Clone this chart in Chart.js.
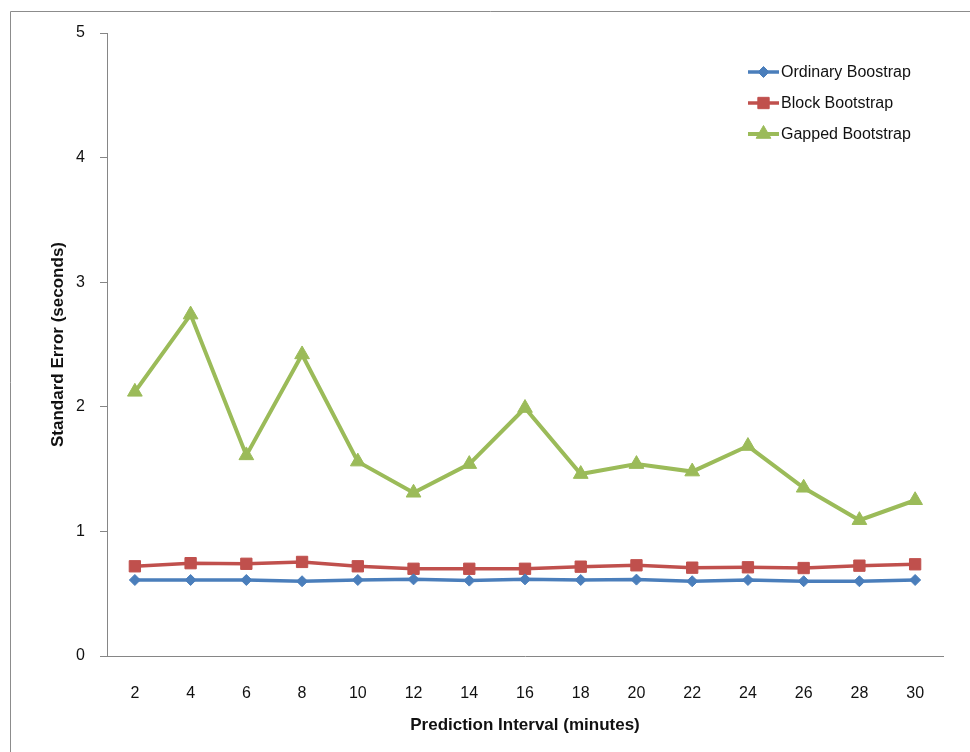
<!DOCTYPE html>
<html>
<head>
<meta charset="utf-8">
<title>Standard Error by Prediction Interval</title>
<script src="https://cdn.jsdelivr.net/npm/chart.js@4/dist/chart.umd.min.js"></script>
<style>
  html, body { margin: 0; padding: 0; background: #fff; }
  #wrap { width: 970px; height: 752px; }
</style>
</head>
<body>
<div id="wrap"><canvas id="grafico" width="970" height="752"></canvas></div>
<script>
// dados
const intervals = ["2", "4", "6", "8", "10", "12", "14", "16", "18", "20", "22", "24", "26", "28", "30"];
const ordinary = [0.61, 0.61, 0.61, 0.60, 0.61, 0.615, 0.605, 0.615, 0.61, 0.613, 0.60, 0.61, 0.60, 0.60, 0.61];
const block = [0.72, 0.745, 0.74, 0.755, 0.72, 0.70, 0.70, 0.70, 0.717, 0.728, 0.709, 0.712, 0.706, 0.725, 0.736];
const gapped = [2.12, 2.74, 1.61, 2.42, 1.56, 1.31, 1.54, 1.99, 1.46, 1.54, 1.48, 1.685, 1.35, 1.09, 1.25];
const yTicks = [0, 1, 2, 3, 4, 5];

const FONT = "'Liberation Sans', Arial, sans-serif";
const AXIS_GRAY = "#868686";

// moldura externa (só esquerda e topo aparecem)
const frame = {
  id: "frame",
  beforeDraw(chart) {
    const ctx = chart.ctx;
    ctx.save();
    ctx.strokeStyle = "#8c8c8c";
    ctx.lineWidth = 1;
    ctx.beginPath();
    ctx.moveTo(10.5, 760);
    ctx.lineTo(10.5, 11.5);
    ctx.lineTo(980, 11.5);
    ctx.stroke();
    ctx.restore();
  }
};

// legenda com linha + marcador, dentro da área do gráfico
const lineLegend = {
  id: "lineLegend",
  afterDraw(chart) {
    const ctx = chart.ctx;
    ctx.save();
    chart.data.datasets.forEach((ds, i) => {
      const y = 72 + i * 31;
      ctx.strokeStyle = ds.borderColor;
      ctx.lineWidth = ds.borderWidth;
      ctx.beginPath();
      ctx.moveTo(748, y);
      ctx.lineTo(779, y);
      ctx.stroke();
      ctx.fillStyle = ds.backgroundColor;
      ctx.strokeStyle = ds.borderColor;
      ctx.lineWidth = 1;
      Chart.helpers.drawPoint(ctx, { pointStyle: ds.pointStyle, radius: ds.pointRadius, borderWidth: 1 }, 763.5, y);
      ctx.fillStyle = "#111";
      ctx.font = "16px " + FONT;
      ctx.textAlign = "left";
      ctx.textBaseline = "middle";
      ctx.fillText(ds.label, 781, y + 1);
    });
    ctx.restore();
  }
};

new Chart(document.getElementById("grafico"), {
  type: "line",
  data: {
    labels: intervals,
    datasets: [
      {
        label: "Ordinary Boostrap",
        data: ordinary,
        borderColor: "#4a7ebb",
        backgroundColor: "#4a7ebb",
        borderWidth: 3.5,
        pointStyle: "rectRot",
        pointRadius: 5.5,
        pointBorderWidth: 1
      },
      {
        label: "Block Bootstrap",
        data: block,
        borderColor: "#c0504d",
        backgroundColor: "#c0504d",
        borderWidth: 3.5,
        pointStyle: "rect",
        pointRadius: 8,
        pointBorderWidth: 1
      },
      {
        label: "Gapped Bootstrap",
        data: gapped,
        borderColor: "#9bbb59",
        backgroundColor: "#9bbb59",
        borderWidth: 4,
        pointStyle: "triangle",
        pointRadius: 8.5,
        pointBorderWidth: 1
      }
    ]
  },
  options: {
    responsive: false,
    animation: false,
    devicePixelRatio: 1,
    layout: { padding: { top: 33, right: 27, left: 0, bottom: 0 } },
    elements: { line: { tension: 0 } },
    plugins: {
      legend: { display: false },
      tooltip: { enabled: false }
    },
    scales: {
      x: {
        type: "category",
        offset: true,
        grid: { display: false, drawTicks: false },
        border: { display: true, color: AXIS_GRAY, width: 1 },
        ticks: { color: "#111", font: { family: FONT, size: 16 }, padding: 28, maxRotation: 0 },
        title: {
          display: true,
          text: "Prediction Interval (minutes)",
          color: "#111",
          font: { family: FONT, size: 17, weight: "bold" },
          padding: { top: 0, bottom: 16 }
        },
        afterFit(scale) { scale.height = 96; }
      },
      y: {
        min: 0,
        max: 5,
        afterBuildTicks(scale) { scale.ticks = yTicks.map(v => ({ value: v })); },
        grid: { drawOnChartArea: false, drawTicks: true, tickLength: 7, color: AXIS_GRAY },
        border: { display: true, color: AXIS_GRAY, width: 1 },
        ticks: { color: "#111", font: { family: FONT, size: 16 }, padding: 15 },
        title: {
          display: true,
          text: "Standard Error (seconds)",
          color: "#111",
          font: { family: FONT, size: 17, weight: "bold" },
          padding: { top: 48, bottom: 0 }
        },
        afterFit(scale) { scale.width = 107; }
      }
    }
  },
  plugins: [frame, lineLegend]
});
</script>
</body>
</html>
